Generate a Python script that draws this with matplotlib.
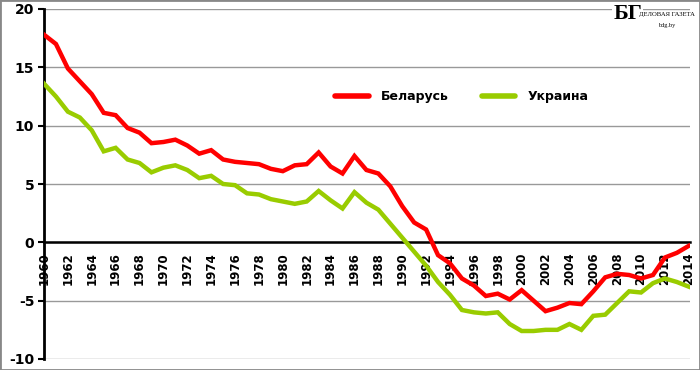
import matplotlib
matplotlib.use("Agg")
import matplotlib.pyplot as plt
from matplotlib.patches import Rectangle

years = list(range(1960, 2015))
belarus = [17.8, 17.0, 14.9, 13.8, 12.7, 11.1, 10.9, 9.8, 9.4, 8.5,
           8.6, 8.8, 8.3, 7.6, 7.9, 7.1, 6.9, 6.8, 6.7, 6.3,
           6.1, 6.6, 6.7, 7.7, 6.5, 5.9, 7.4, 6.2, 5.9, 4.8,
           3.1, 1.7, 1.1, -1.1, -1.8, -3.1, -3.7, -4.6, -4.4, -4.9,
           -4.1, -5.0, -5.9, -5.6, -5.2, -5.3, -4.2, -3.0, -2.7, -2.8,
           -3.1, -2.8, -1.3, -0.9, -0.3]
ukraine = [13.6, 12.5, 11.2, 10.7, 9.6, 7.8, 8.1, 7.1, 6.8, 6.0,
           6.4, 6.6, 6.2, 5.5, 5.7, 5.0, 4.9, 4.2, 4.1, 3.7,
           3.5, 3.3, 3.5, 4.4, 3.6, 2.9, 4.3, 3.4, 2.8, 1.6,
           0.4, -0.8, -2.0, -3.4, -4.5, -5.8, -6.0, -6.1, -6.0, -7.0,
           -7.6, -7.6, -7.5, -7.5, -7.0, -7.5, -6.3, -6.2, -5.2, -4.2,
           -4.3, -3.5, -3.1, -3.4, -3.8]
xtick_years = list(range(1960, 2015, 2))
yticks = [-10, -5, 0, 5, 10, 15, 20]
series_names = ["Беларусь", "Украина"]

fig = plt.figure(figsize=(7, 3.7), dpi=100)
ax = fig.add_axes([44/700, 11/370, 646/700, 350/370])

ax.spines["bottom"].set_position(("data", 0))
ax.spines["bottom"].set_linewidth(1.8)
ax.spines["bottom"].set_zorder(2)
ax.spines["left"].set_linewidth(2)
ax.spines["top"].set_visible(False)
ax.spines["right"].set_visible(False)

ax.plot(years, belarus, color="#FF0000", lw=3.2, label=series_names[0], solid_joinstyle="miter", zorder=3)
ax.plot(years, ukraine, color="#99CC00", lw=3.2, label=series_names[1], solid_joinstyle="miter", zorder=3)

ax.set_xlim(1960, 2014.1)
ax.set_ylim(-10, 20)
ax.set_yticks(yticks)
ax.set_yticklabels([str(v) for v in yticks], fontweight="bold", fontsize=10)
ax.yaxis.grid(True, color="#999999", lw=1)
ax.set_axisbelow(True)

ax.set_xticks(xtick_years)
ax.set_xticklabels([str(y) for y in xtick_years], rotation=90, fontweight="bold", fontsize=8.5)
ax.tick_params(axis="x", length=0, pad=7)
ax.tick_params(axis="y", length=4, width=1.5, direction="out", pad=3)

leg = fig.legend(loc="center", bbox_to_anchor=(0.66, 0.738), ncol=2, frameon=False,
                 handlelength=2.7, columnspacing=2.6, handletextpad=1.0,
                 prop={"weight": "bold", "size": 9})
for h in leg.legend_handles:
    h.set_linewidth(4)
    h.set_solid_capstyle("round")

# logo
fig.text(0.876, 0.99, "БГ", fontsize=16, fontweight="bold", family="Liberation Serif",
         ha="left", va="top", bbox=dict(facecolor="white", edgecolor="none", pad=1))
fig.text(0.993, 0.962, "ДЕЛОВАЯ ГАЗЕТА", fontsize=4.8, family="Liberation Serif",
         ha="right", va="center")
fig.text(0.952, 0.93, "bdg.by", fontsize=4.5, family="Liberation Serif",
         ha="center", va="center")

fig.patches.append(Rectangle((0, 0), 1, 1, transform=fig.transFigure, fill=False,
                             edgecolor="#888888", lw=2))

fig.savefig("out.png", dpi=100)
